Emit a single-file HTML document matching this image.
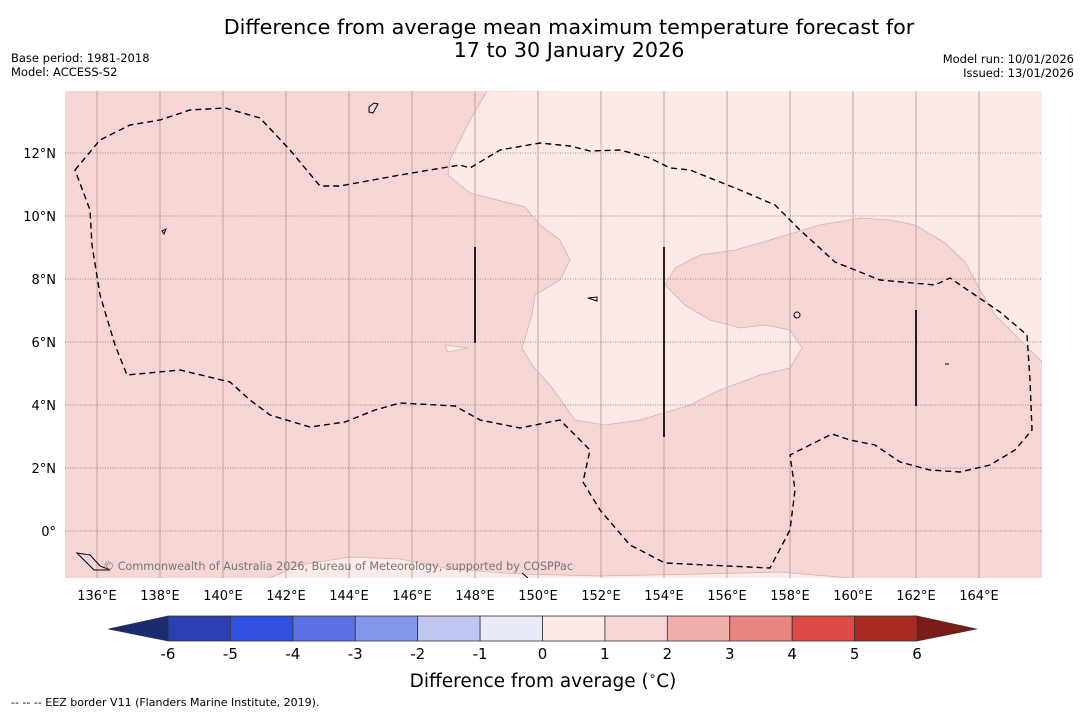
<!DOCTYPE html>
<html><head><meta charset="utf-8"><style>
body{margin:0;background:#fff;font-family:"Liberation Sans","DejaVu Sans",sans-serif}
svg{display:block}
</style></head><body>
<svg id="s" width="1085" height="713" viewBox="0 0 1085 713" xmlns="http://www.w3.org/2000/svg" font-family="DejaVu Sans, Liberation Sans, sans-serif">
<text x="569" y="34" font-size="20.7" text-anchor="middle">Difference from average mean maximum temperature forecast for</text>
<text x="569" y="57" font-size="20.7" text-anchor="middle">17 to 30 January 2026</text>
<text x="11" y="62" font-size="11.5">Base period: 1981-2018</text>
<text x="11" y="76" font-size="11.5">Model: ACCESS-S2</text>
<text x="1074" y="63" font-size="11.5" text-anchor="end">Model run: 10/01/2026</text>
<text x="1074" y="77" font-size="11.5" text-anchor="end">Issued: 13/01/2026</text>
<defs><clipPath id="mc"><rect x="65" y="91" width="977" height="487"/></clipPath></defs>
<g clip-path="url(#mc)">
<rect x="65" y="91" width="977" height="487" fill="#f5d6d4"/>
<path fill="#fbeae8" stroke="#d9b0ad" stroke-width="0.8" d="M487,91 L470,120 L450,160 L448,175 L470,193 L525,207 L540,225 L560,240 L570,260 L560,280 L535,295 L532,315 L522,348 L532,365 L550,385 L575,420 L605,425 L640,420 L690,405 L720,390 L760,375 L790,368 L802,348 L790,330 L765,325 L740,328 L710,320 L685,305 L665,285 L675,268 L700,255 L735,250 L770,240 L820,225 L860,218 L890,220 L915,225 L945,243 L965,262 L980,290 L995,315 L1020,340 L1045,365 L1045,88 Z"/>
<path fill="#fbeae8" stroke="#d9b0ad" stroke-width="0.8" d="M265,580 L300,565 L350,557 L400,559 L450,569 L520,574 L600,576 L700,574 L780,572 L850,578 L850,582 L265,582 Z"/>
<path fill="#fbeae8" stroke="#d9b0ad" stroke-width="0.8" d="M445,345 L468,348 L448,352 Z"/>
<g id="grid"></g>
<path fill="none" stroke="#000" stroke-width="1.4" stroke-dasharray="6,4" d="M75,170 L100,140 L130,125 L160,120 L190,110 L225,108 L260,118 L290,150 L320,186 L340,186 L400,175 L460,165 L470,168 L500,150 L540,143 L570,146 L590,151 L620,150 L650,158 L670,168 L690,170 L740,190 L775,205 L800,230 L835,262 L880,280 L935,285 L950,278 L975,295 L1000,312 L1027,335 L1030,380 L1032,430 L1015,450 L990,465 L960,472 L930,470 L900,462 L875,445 L850,440 L832,434 L790,455 L795,490 L790,530 L770,568 L665,563 L630,545 L600,510 L583,482 L590,450 L575,435 L560,420 L520,428 L480,420 L455,406 L400,403 L375,410 L345,422 L310,427 L270,415 L250,400 L230,382 L180,370 L127,375 L115,345 L100,295 L92,245 L90,210 Z"/>
<g stroke="#222" stroke-width="2">
<line x1="475" y1="247" x2="475" y2="343"/><line x1="664" y1="247" x2="664" y2="437"/><line x1="916" y1="310" x2="916" y2="406"/>
</g>
<g fill="none" stroke="#000" stroke-width="1">
<path d="M369,107 L374,103 L378,104 L373,113 L369,112 Z"/><path d="M162,231 L166,229 L164,234 Z"/><path d="M588,298 L597,297 L597,301 Z"/><circle cx="797" cy="315" r="3"/><path d="M77,553 L90,555 L100,566 L110,570 L94,570 L84,560 Z"/><path d="M945,364 L949,364"/><path d="M522,573 L528,578"/>
</g>
<text x="103" y="570" font-size="11.2" fill="#777" textLength="470">© Commonwealth of Australia 2026, Bureau of Meteorology, supported by COSPPac</text>
</g>
<g id="xt"></g>
<g id="yt"></g>
<g id="cb"></g>
<text x="543" y="687" font-size="18.5" text-anchor="middle">Difference from average (<tspan font-size="12" dy="-7">∘</tspan><tspan dy="7">C)</tspan></text>
<text x="11" y="706" font-size="11">--  --  -- EEZ border V11 (Flanders Marine Institute, 2019).</text>
</svg>
<script>
const lonTicks=[136,138,140,142,144,146,148,150,152,154,156,158,160,162,164];
const latTicks=[0,2,4,6,8,10,12];
const cbLevels=[-6,-5,-4,-3,-2,-1,0,1,2,3,4,5,6];
const cbColors=["#2a40b0","#3050e0","#5a72e3","#8496ea","#c0c8f2","#e8eaf8","#fbeae8","#f5d6d4","#eeaeaa","#e88680","#dc4c44","#ab2a24"];
const NS="http://www.w3.org/2000/svg";
const X=lon=>97+(lon-136)*31.5, Y=lat=>531-lat*31.5;
const C=v=>168+(v+6)*62.42;
function mk(t,a,p){const e=document.createElementNS(NS,t);for(const k in a)e.setAttribute(k,a[k]);p.appendChild(e);return e;}
const g=document.getElementById('grid'),xt=document.getElementById('xt'),yt=document.getElementById('yt'),cb=document.getElementById('cb');
lonTicks.forEach(l=>{
 const ln=mk('line',{x1:X(l),x2:X(l),y1:91,y2:578,stroke:'#c0a4a2','stroke-width':1},g);
 
 
 const t=mk('text',{x:X(l),y:600,'font-size':13,'text-anchor':'middle'},xt);t.textContent=l+'°E';
 
 
});
latTicks.forEach(l=>{
 const ln=mk('line',{x1:65,x2:1042,y1:Y(l),y2:Y(l),stroke:'#9a8a88','stroke-width':1,'stroke-dasharray':'1,1.5'},g);
 
 
 const t=mk('text',{x:56,y:Y(l)+5,'font-size':13,'text-anchor':'end'},yt);t.textContent=l===0?'0°':l+'°N';
 
 
});
const lt=mk('polygon',{points:`${C(-6)},616 ${C(-6)},641 108,629`,fill:'#1c2a70',stroke:'#333','stroke-width':0.6},cb);


const rt=mk('polygon',{points:`${C(6)},616 ${C(6)},641 977,629`,fill:'#7a1c18',stroke:'#333','stroke-width':0.6},cb);


cbColors.forEach((c,i)=>{
 const r=mk('rect',{x:C(cbLevels[i]),y:616,width:C(cbLevels[i+1])-C(cbLevels[i]),height:25,fill:c,stroke:'#333','stroke-width':0.8},cb);
 
 
});
cbLevels.forEach(v=>{
 const t=mk('text',{x:C(v),y:659,'font-size':15,'text-anchor':'middle'},cb);t.textContent=v;
 
 
});
</script>
</body></html>
